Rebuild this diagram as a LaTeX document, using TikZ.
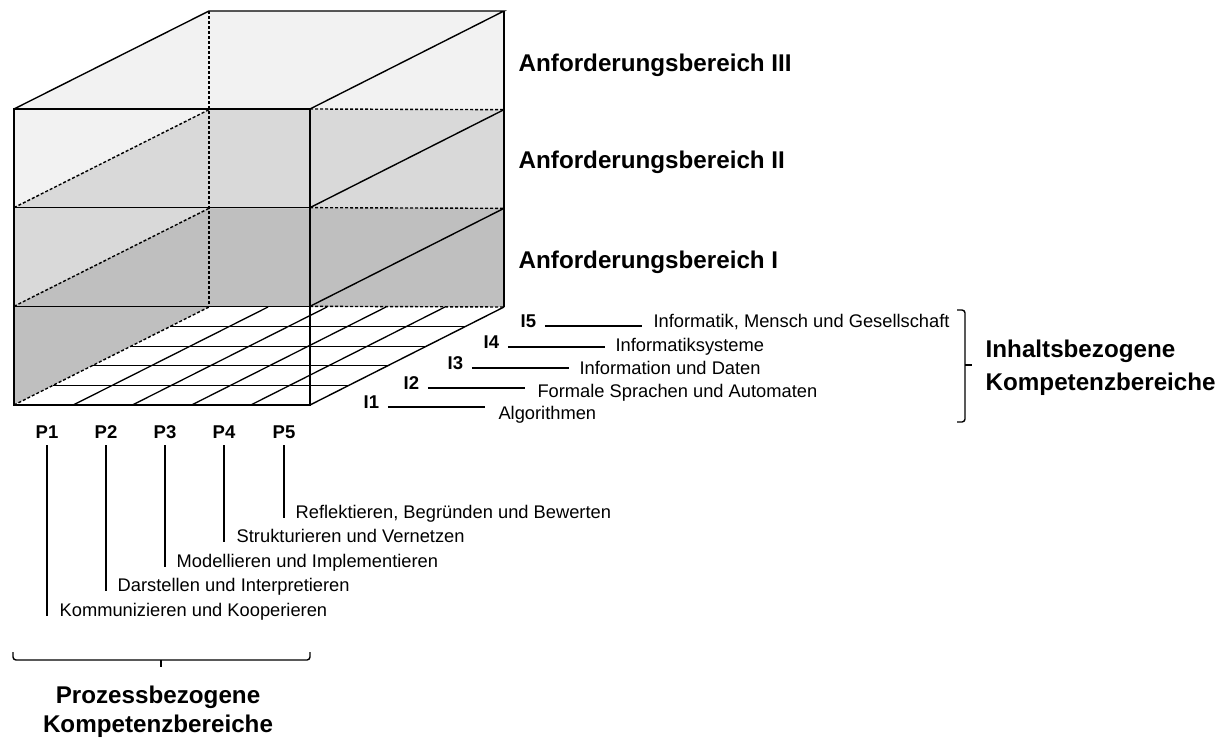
\documentclass[tikz,border=0pt]{standalone}
\usepackage{fontspec}
\setmainfont{Liberation Sans}
\usetikzlibrary{calc}
\definecolor{levelA}{HTML}{BFBFBF}
\definecolor{levelB}{HTML}{D9D9D9}
\definecolor{levelC}{HTML}{F2F2F2}
\tikzset{
  head/.style={font=\fontsize{24.2}{29}\selectfont\bfseries, inner sep=0pt},
  tag/.style={font=\fontsize{18.5}{22}\selectfont\bfseries, inner sep=0pt},
  lbl/.style={font=\fontsize{18.3}{22}\selectfont, inner sep=0pt},
  hidden/.style={dash pattern=on 3pt off 2pt},
}
\begin{document}
\begin{tikzpicture}[x=1pt, y=-1pt, line width=1.4pt]
        \useasboundingbox (0,0) rectangle (1228,738);

        % Define coordinates (front and back corners of each level)
        \foreach \k in {0,...,3} {
            \coordinate (FL\k) at (14,405-98.67*\k);
            \coordinate (FR\k) at (310,405-98.67*\k);
            \coordinate (BL\k) at (209,307-98.67*\k);
            \coordinate (BR\k) at (504,307-98.67*\k);
        }

        % Shade the three levels and the floor
        \fill[levelC] (FL0) -- (FL3) -- (BL3) -- (BR3) -- (BR0) -- (FR0) -- cycle;
        \fill[levelB] (FL0) -- (FL2) -- (BL2) -- (BR2) -- (BR0) -- (FR0) -- cycle;
        \fill[levelA] (FL0) -- (FL1) -- (BL1) -- (BR1) -- (BR0) -- (FR0) -- cycle;
        \fill[white] (FL0) -- (BL0) -- (BR0) -- (FR0) -- cycle;

        % Draw the grid on the floor
        \foreach \i in {1,...,4} {
            \draw[line width=1.3pt] ($(FL0)!\i/5!(FR0)$) -- ($(BL0)!\i/5!(BR0)$);
            \draw[line width=1.3pt] ($(FL0)!\i/5!(BL0)$) -- ($(FR0)!\i/5!(BR0)$);
        }

        % Draw the hidden edges
        \draw[hidden] (BL3) -- (BL0);
        \draw[hidden] (FL0) -- (BL0) (FL1) -- (BL1) (FL2) -- (BL2);
        \draw[hidden] (FR1) -- (BR0) (FR2) -- (BR1) (FR3) -- (BR2);

        % Draw the visible edges
        \draw (FL0) rectangle (FR3);
        \draw (FL1) -- (FR1) (FL2) -- (FR2);
        \draw (FL3) -- (BL3) -- (BR3) -- (FR3);
        \draw (BR3) -- (BR0);
        \draw (FR0) -- (BR0) (FR1) -- (BR1) (FR2) -- (BR2);

        % Label the levels
        \node[head, anchor=base west] (ab3) at (518,72) {Anforderungsbereich III};
        \node[head, anchor=base west] (ab2) at (518,169) {Anforderungsbereich II};
        \node[head, anchor=base west] (ab1) at (518,268) {Anforderungsbereich I};

        % Label the content areas
        \node[tag, anchor=base west] (i1) at (363,408) {I1};
        \node[tag, anchor=base west] (i2) at (403,389) {I2};
        \node[tag, anchor=base west] (i3) at (447,369) {I3};
        \node[tag, anchor=base west] (i4) at (483,348) {I4};
        \node[tag, anchor=base west] (i5) at (520,327) {I5};
        \draw ([shift={(8,-1)}]i1.base east) -- ++(97,0)
            node[lbl, anchor=base west, xshift=13pt, yshift=-12pt] (t1) {Algorithmen};
        \draw ([shift={(8,-1)}]i2.base east) -- ++(97,0)
            node[lbl, anchor=base west, xshift=12pt, yshift=-9pt] (t2) {Formale Sprachen und Automaten};
        \draw ([shift={(8,-1)}]i3.base east) -- ++(97,0)
            node[lbl, anchor=base west, xshift=10pt, yshift=-6pt] (t3) {Information und Daten};
        \draw ([shift={(8,-1)}]i4.base east) -- ++(97,0)
            node[lbl, anchor=base west, xshift=10pt, yshift=-4pt] (t4) {Informatiksysteme};
        \draw ([shift={(8,-1)}]i5.base east) -- ++(97,0)
            node[lbl, anchor=base west, xshift=11pt, yshift=-1pt] (t5) {Informatik, Mensch und Gesellschaft};

        % Label the process areas
        \node[tag, anchor=base] (p1) at (47,438) {P1};
        \node[tag, anchor=base] (p2) at (106,438) {P2};
        \node[tag, anchor=base] (p3) at (165,438) {P3};
        \node[tag, anchor=base] (p4) at (224,438) {P4};
        \node[tag, anchor=base] (p5) at (284,438) {P5};
        \node[lbl, anchor=base west] (k1) at (59,616) {Kommunizieren und Kooperieren};
        \node[lbl, anchor=base west] (k2) at (117,591) {Darstellen und Interpretieren};
        \node[lbl, anchor=base west] (k3) at (176,567) {Modellieren und Implementieren};
        \node[lbl, anchor=base west] (k4) at (236,542) {Strukturieren und Vernetzen};
        \node[lbl, anchor=base west] (k5) at (295,518) {Reflektieren, Begründen und Bewerten};
        \draw ([yshift=-7pt]p1.base) -- (p1.base |- k1.base);
        \draw ([yshift=-7pt]p2.base) -- (p2.base |- k2.base);
        \draw ([yshift=-7pt]p3.base) -- (p3.base |- k3.base);
        \draw ([yshift=-7pt]p4.base) -- (p4.base |- k4.base);
        \draw ([yshift=-7pt]p5.base) -- (p5.base |- k5.base);

        % Brackets and group labels
        \draw[rounded corners=3pt] (957,310) -- (965,310) -- (965,422) -- (957,422);
        \draw (965,365) -- (972,365);
        \node[head, anchor=base west] (ik1) at (985,357) {Inhaltsbezogene};
        \node[head, anchor=base west] (ik2) at (985,390) {Kompetenzbereiche};

        \draw[rounded corners=3pt] (13,652) -- (13,660) -- (310,660) -- (310,652);
        \draw (161,660) -- (161,667);
        \node[head, anchor=base] (pk1) at (158,703) {Prozessbezogene};
        \node[head, anchor=base] (pk2) at (158,732) {Kompetenzbereiche};
    \end{tikzpicture}
\end{document}
